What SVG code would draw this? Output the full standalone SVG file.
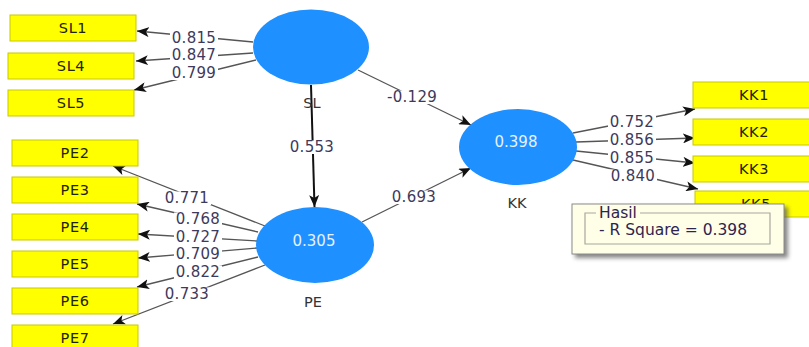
<svg xmlns="http://www.w3.org/2000/svg" width="809" height="347" viewBox="0 0 809 347">
<defs>
<style>
.box{fill:#ffff00;stroke:#c8c800;stroke-width:1}
.bt{font-family:"DejaVu Sans",sans-serif;font-size:14.5px;fill:#1e2200;text-anchor:middle;letter-spacing:0.6px}
.lv{fill:#1e90ff}
.lt{font-family:"DejaVu Sans",sans-serif;font-size:15px;fill:#e6f2ff;text-anchor:middle}
.nm{font-family:"DejaVu Sans",sans-serif;font-size:14.5px;fill:#333;text-anchor:middle}
.ln{stroke:#555;stroke-width:1.3;fill:none;marker-end:url(#ah)}
.bg{fill:#fff}
.lb{font-family:"DejaVu Sans",sans-serif;font-size:15px;fill:#3d3a5c;text-anchor:middle;letter-spacing:0.3px}
.tt{font-family:"DejaVu Sans",sans-serif;font-size:15.5px;fill:#2e2450}
</style>
<marker id="ah" viewBox="0 0 12 10" refX="12" refY="5" markerWidth="12" markerHeight="10" orient="auto" markerUnits="userSpaceOnUse">
<path d="M0,0 L12,5 L0,10 L3,5 z" fill="#111"/>
</marker>
<filter id="sh" x="-10%" y="-20%" width="130%" height="150%">
<feGaussianBlur stdDeviation="2"/>
</filter>
</defs>

<g id="connectors">
<line class="ln" x1="253" y1="42" x2="137" y2="31"/>
<line class="ln" x1="253" y1="53" x2="136" y2="61"/>
<line class="ln" x1="256" y1="60" x2="134" y2="90"/>
<line class="ln" x1="265" y1="226" x2="113" y2="166"/>
<line class="ln" x1="258" y1="232" x2="137" y2="204"/>
<line class="ln" x1="257" y1="241" x2="138" y2="234"/>
<line class="ln" x1="257" y1="248" x2="138" y2="258"/>
<line class="ln" x1="258" y1="257" x2="137" y2="287"/>
<line class="ln" x1="265" y1="265" x2="113" y2="324"/>
<line x1="311" y1="85" x2="314.5" y2="207" stroke="#111" stroke-width="2" marker-end="url(#ah)"/>
<line class="ln" x1="358" y1="70" x2="471" y2="125"/>
<line class="ln" x1="362" y1="222" x2="471" y2="168"/>
<line class="ln" x1="573" y1="133" x2="695" y2="109"/>
<line class="ln" x1="576" y1="142" x2="695" y2="138"/>
<line class="ln" x1="576" y1="151" x2="695" y2="163"/>
<line class="ln" x1="573" y1="160" x2="698" y2="189"/>
<rect class="bg" x="170" y="31.5" width="48" height="13.5"/><text class="lb" x="194" y="43">0.815</text>
<rect class="bg" x="170" y="48.5" width="48" height="13.5"/><text class="lb" x="194" y="60">0.847</text>
<rect class="bg" x="170" y="66.5" width="48" height="13.5"/><text class="lb" x="194" y="78">0.799</text>
<rect class="bg" x="163" y="191.5" width="48" height="13.5"/><text class="lb" x="187" y="203">0.771</text>
<rect class="bg" x="174" y="212.5" width="48" height="13.5"/><text class="lb" x="198" y="224">0.768</text>
<rect class="bg" x="174" y="230.5" width="48" height="13.5"/><text class="lb" x="198" y="242">0.727</text>
<rect class="bg" x="174" y="247.5" width="48" height="13.5"/><text class="lb" x="198" y="259">0.709</text>
<rect class="bg" x="174" y="265.5" width="48" height="13.5"/><text class="lb" x="198" y="277">0.822</text>
<rect class="bg" x="163" y="287.5" width="48" height="13.5"/><text class="lb" x="187" y="299">0.733</text>
<rect class="bg" x="288" y="140.5" width="48" height="13.5"/><text class="lb" x="312" y="152">0.553</text>
<rect class="bg" x="385" y="90.5" width="54" height="13.5"/><text class="lb" x="412" y="102">-0.129</text>
<rect class="bg" x="390" y="190.5" width="48" height="13.5"/><text class="lb" x="414" y="202">0.693</text>
<rect class="bg" x="608" y="115.5" width="48" height="13.5"/><text class="lb" x="632" y="127">0.752</text>
<rect class="bg" x="608" y="133.5" width="48" height="13.5"/><text class="lb" x="632" y="145">0.856</text>
<rect class="bg" x="608" y="151.5" width="48" height="13.5"/><text class="lb" x="632" y="163">0.855</text>
<rect class="bg" x="609" y="169.5" width="48" height="13.5"/><text class="lb" x="633" y="181">0.840</text>
</g>

<g id="SL1"><rect class="box" x="10" y="15" width="126" height="26"/><text class="bt" x="73" y="33">SL1</text></g>
<g id="SL4"><rect class="box" x="8" y="53" width="126" height="26"/><text class="bt" x="71" y="71">SL4</text></g>
<g id="SL5"><rect class="box" x="8" y="90" width="126" height="26"/><text class="bt" x="71" y="108">SL5</text></g>

<g id="PE2"><rect class="box" x="12" y="140" width="126" height="26"/><text class="bt" x="75" y="158">PE2</text></g>
<g id="PE3"><rect class="box" x="12" y="177" width="126" height="26"/><text class="bt" x="75" y="195">PE3</text></g>
<g id="PE4"><rect class="box" x="12" y="214" width="126" height="26"/><text class="bt" x="75" y="232">PE4</text></g>
<g id="PE5"><rect class="box" x="12" y="251" width="126" height="26"/><text class="bt" x="75" y="269">PE5</text></g>
<g id="PE6"><rect class="box" x="12" y="288" width="126" height="26"/><text class="bt" x="75" y="306">PE6</text></g>
<g id="PE7"><rect class="box" x="12" y="325" width="126" height="26"/><text class="bt" x="75" y="343">PE7</text></g>

<g id="KK1"><rect class="box" x="693" y="82" width="122" height="26"/><text class="bt" x="754" y="100">KK1</text></g>
<g id="KK2"><rect class="box" x="693" y="119" width="122" height="26"/><text class="bt" x="754" y="137">KK2</text></g>
<g id="KK3"><rect class="box" x="693" y="156" width="122" height="26"/><text class="bt" x="754" y="174">KK3</text></g>
<g id="KK5"><rect class="box" x="695" y="191" width="122" height="26"/><text class="bt" x="756" y="209">KK5</text></g>

<g id="SL"><ellipse class="lv" cx="311" cy="47" rx="58" ry="37.5"/><text class="nm" x="312" y="108">SL</text></g>
<g id="PE"><ellipse class="lv" cx="315" cy="245" rx="59" ry="38"/><text class="lt" x="314" y="246">0.305</text><text class="nm" x="313" y="307">PE</text></g>
<g id="KK"><ellipse class="lv" cx="518" cy="147" rx="59" ry="38"/><text class="lt" x="516" y="147">0.398</text><text class="nm" x="517" y="208">KK</text></g>

<g id="tooltip">
<rect x="575" y="207" width="213" height="51" fill="#555" opacity="0.7" filter="url(#sh)"/>
<rect x="572" y="204" width="212" height="50" fill="#ffffe8" stroke="#8a8a8a" stroke-width="1"/>
<path d="M596,213 L585,213 L585,244 L770,244 L770,213 L640,213" fill="none" stroke="#a8a8a0" stroke-width="1.2"/>
<text class="tt" x="599" y="218">Hasil</text>
<text class="tt" x="599" y="235">- R Square = 0.398</text>
</g>
</svg>
